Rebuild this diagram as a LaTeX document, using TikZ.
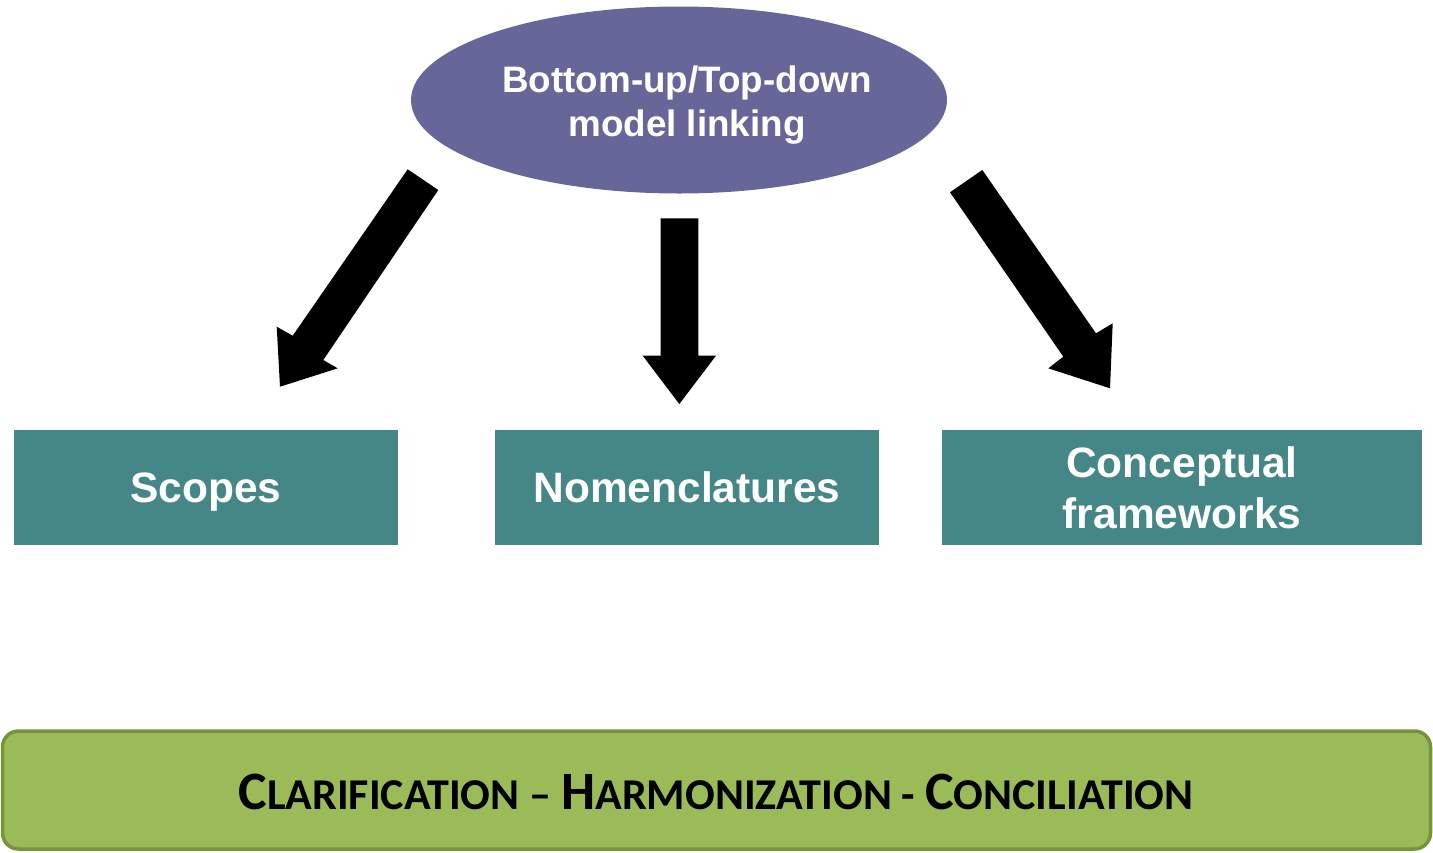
\documentclass[tikz,border=0pt]{standalone}
\usepackage{fontspec}
\setmainfont{Liberation Sans}
\newfontfamily\calib{Carlito}
\usetikzlibrary{shapes.geometric}
\definecolor{ellcol}{HTML}{666699}
\definecolor{teal}{HTML}{448786}
\definecolor{grfill}{HTML}{9BBB59}
\definecolor{grline}{HTML}{77933C}
\newcommand\fsc[2]{{\fontsize{54}{60}\selectfont #1}{\fontsize{44}{50}\selectfont #2}}
\tikzset{
  tealbox/.style={rectangle, fill=teal, inner sep=0pt, minimum height=115pt, text=white, font=\bfseries\fontsize{42.5}{51}\selectfont, align=center},
  blockarrow/.style={fill=black, draw=none},
}
\begin{document}
\begin{tikzpicture}[x=1pt, y=-1pt]
\useasboundingbox (0,0) rectangle (1433,852);
% ellipse
\node[ellipse, fill=ellcol, minimum width=536pt, minimum height=187pt, inner sep=0pt] (top) at (679,100) {};
\node[text=white, font=\bfseries\fontsize{36.8}{44}\selectfont, align=center] (toptext) at (687,105) {Bottom-up/Top-down\\model linking};
% boxes
\node[tealbox, minimum width=384pt, text depth=0pt] (scopes) at (206,487.5) {Scopes};
\node[tealbox, minimum width=384pt, text depth=0pt] (nomen) at (687,487.5) {Nomenclatures};
\node[tealbox, minimum width=480pt] (concept) at (1182,487.5) {Conceptual\\frameworks};
% arrows
\fill[blockarrow] (407.7,169.3) -- (438.3,190) -- (323.3,360) -- (337.7,368.3) -- (280,386.7) -- (276.7,326.7) -- (292.7,335.7) -- cycle;
\fill[blockarrow] (660.7,218.3) -- (698.3,218.3) -- (698.3,355.7) -- (716,355.7) -- (679.3,404) -- (642.7,355.7) -- (660.7,355.7) -- cycle;
\fill[blockarrow] (982.3,170) -- (950,192.3) -- (1063.3,356.7) -- (1048.3,368.3) -- (1110,388.3) -- (1112.7,323.3) -- (1096,333.3) -- cycle;
% bottom bar
\node[rectangle, rounded corners=16pt, fill=grfill, draw=grline, line width=3.5pt, minimum width=1428pt, minimum height=118pt, inner sep=0pt] (bar) at (716.5,790) {};
\node[font=\calib\bfseries\fontsize{44}{50}\selectfont, text=black] (bartext) at (716,792) {\fsc{C}{LARIFICATION} – \fsc{H}{ARMONIZATION} - \fsc{C}{ONCILIATION}};
\end{tikzpicture}
\end{document}
